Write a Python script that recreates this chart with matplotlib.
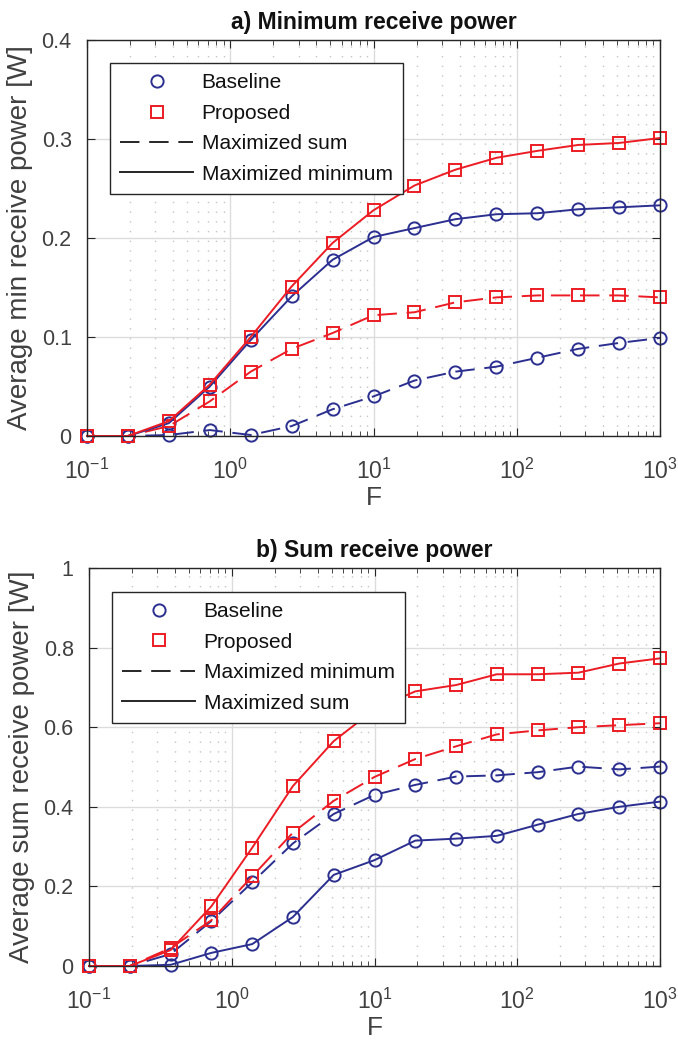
import matplotlib
matplotlib.use('Agg')
import matplotlib.pyplot as plt
from matplotlib.lines import Line2D

plt.rcParams['font.family'] = ['Liberation Sans', 'DejaVu Sans']
plt.rcParams['mathtext.fontset'] = 'custom'
plt.rcParams['mathtext.rm'] = 'Liberation Sans'
plt.rcParams['mathtext.it'] = 'Liberation Sans'
plt.rcParams['mathtext.default'] = 'rm'

# x axis values (F)
F = [0.1, 0.193, 0.373, 0.72, 1.39, 2.68, 5.18, 10, 19.3, 37.3, 72, 139, 268, 518, 1000]

# a) minimum receive power
a_base_maxmin = [0, 0, 0.013, 0.050, 0.097, 0.141, 0.178, 0.201, 0.210, 0.219, 0.224, 0.225, 0.229, 0.231, 0.233]
a_prop_maxmin = [0, 0, 0.015, 0.052, 0.100, 0.151, 0.195, 0.228, 0.253, 0.269, 0.281, 0.288, 0.294, 0.296, 0.301]
a_base_maxsum = [0, 0, 0.001, 0.006, 0.001, 0.010, 0.027, 0.040, 0.056, 0.065, 0.070, 0.079, 0.088, 0.094, 0.099]
a_prop_maxsum = [0, 0, 0.010, 0.035, 0.065, 0.088, 0.104, 0.122, 0.125, 0.135, 0.140, 0.142, 0.142, 0.142, 0.140]

# b) sum receive power
b_prop_maxsum = [0, 0, 0.040, 0.150, 0.297, 0.452, 0.565, 0.645, 0.690, 0.706, 0.733, 0.733, 0.737, 0.760, 0.773]
b_base_maxsum = [0, 0, 0.003, 0.033, 0.055, 0.123, 0.229, 0.266, 0.315, 0.320, 0.327, 0.355, 0.382, 0.400, 0.413]
b_prop_maxmin = [0, 0, 0.045, 0.115, 0.225, 0.335, 0.415, 0.475, 0.520, 0.552, 0.582, 0.592, 0.600, 0.605, 0.610]
b_base_maxmin = [0, 0, 0.030, 0.113, 0.210, 0.308, 0.382, 0.430, 0.455, 0.476, 0.479, 0.487, 0.501, 0.494, 0.501]

xticks = [0.1, 1, 10, 100, 1000]
xticklabels = ['$10^{-1}$', '$10^{0}$', '$10^{1}$', '$10^{2}$', '$10^{3}$']

BLUE = '#2b2f8f'
RED = '#ec1c24'
DARK = '#262626'
FS = 15.5
DASH = (10, 5)


def styleAxes(ax, ylim, yticks, yticklabels, ylabel, title):
    ax.set_xscale('log')
    ax.set_xlim(0.1, 1000)
    ax.set_ylim(*ylim)
    ax.set_xticks(xticks)
    ax.set_xticklabels(xticklabels)
    ax.set_yticks(yticks)
    ax.set_yticklabels(yticklabels)
    ax.grid(True, which='major', color='#dcdcdc', linewidth=1.0)
    ax.grid(True, which='minor', axis='x', color='#c4c4c4', linestyle=(0, (1, 6)), linewidth=1.0)
    ax.set_axisbelow(True)
    ax.tick_params(which='both', direction='in', top=True, right=True, labelsize=FS, colors=DARK,
                   labelcolor='#404040')
    ax.tick_params(axis='x', which='major', length=6, pad=16)
    ax.tick_params(axis='y', which='major', length=6, pad=11)
    ax.tick_params(axis='x', labelsize=16.5)
    ax.tick_params(which='minor', length=3.5)
    for s in ax.spines.values():
        s.set_color(DARK)
        s.set_linewidth(1.0)
    ax.set_xlabel('F', fontsize=19, color='#404040', labelpad=2)
    ax.set_ylabel(ylabel, fontsize=20, color='#404040', labelpad=6)
    ax.set_title(title, fontsize=16.5, fontweight='bold', color='#111111', pad=8)


def plotCurve(ax, y, color, marker, ls):
    ax.plot(F, y, color=color, linestyle=ls, linewidth=1.4, marker=marker,
            markersize=8.8 if marker == 'o' else 8.2, markerfacecolor='none',
            markeredgecolor=color, markeredgewidth=1.4, clip_on=False,
            dashes=DASH if ls == '--' else (None, None))


def addLegend(ax, dashedLabel, solidLabel, top):
    handles = [
        Line2D([], [], linestyle='none', marker='o', markersize=8.8, markerfacecolor='none',
               markeredgecolor=BLUE, markeredgewidth=1.4, label='Baseline'),
        Line2D([], [], linestyle='none', marker='s', markersize=8.2, markerfacecolor='none',
               markeredgecolor=RED, markeredgewidth=1.4, label='Proposed'),
        Line2D([], [], color=DARK, linestyle='--', dashes=DASH, linewidth=1.4, label=dashedLabel),
        Line2D([], [], color=DARK, linestyle='-', linewidth=1.4, label=solidLabel),
    ]
    leg = ax.legend(handles=handles, loc='upper left', bbox_to_anchor=(0.04, top), borderaxespad=0,
                    fontsize=15, fancybox=False, framealpha=1, edgecolor=DARK, handlelength=3.5,
                    handletextpad=0.4, labelspacing=0.55, borderpad=0.5)
    leg.get_frame().set_linewidth(1.0)
    for t in leg.get_texts():
        t.set_color('#111111')


fig = plt.figure(figsize=(6.78, 10.44), dpi=100)
ax1 = fig.add_axes([87 / 678, 1 - 436 / 1044, (660 - 87) / 678, (436 - 40) / 1044])
ax2 = fig.add_axes([89 / 678, 1 - 966 / 1044, (660 - 89) / 678, (966 - 568) / 1044])

plotCurve(ax1, a_base_maxsum, BLUE, 'o', '--')
plotCurve(ax1, a_prop_maxsum, RED, 's', '--')
plotCurve(ax1, a_base_maxmin, BLUE, 'o', '-')
plotCurve(ax1, a_prop_maxmin, RED, 's', '-')
styleAxes(ax1, (0, 0.4), [0, 0.1, 0.2, 0.3, 0.4], ['0', '0.1', '0.2', '0.3', '0.4'],
          'Average min receive power [W]', 'a) Minimum receive power')
addLegend(ax1, 'Maximized sum', 'Maximized minimum', 0.942)

plotCurve(ax2, b_base_maxmin, BLUE, 'o', '--')
plotCurve(ax2, b_prop_maxmin, RED, 's', '--')
plotCurve(ax2, b_base_maxsum, BLUE, 'o', '-')
plotCurve(ax2, b_prop_maxsum, RED, 's', '-')
styleAxes(ax2, (0, 1), [0, 0.2, 0.4, 0.6, 0.8, 1], ['0', '0.2', '0.4', '0.6', '0.8', '1'],
          'Average sum receive power [W]', 'b) Sum receive power')
addLegend(ax2, 'Maximized minimum', 'Maximized sum', 0.94)

fig.savefig('out.png', dpi=100)
